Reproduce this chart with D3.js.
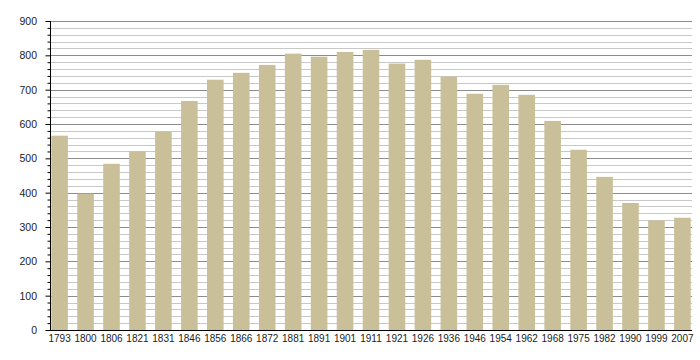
<!DOCTYPE html>
<html><head><meta charset="utf-8">
<script src="https://cdn.jsdelivr.net/npm/d3@7"></script>
<style>body{margin:0;background:#fff}svg{display:block}text{font-family:"Liberation Sans",Arial,sans-serif}</style>
</head><body><svg id="c" width="700" height="360"></svg>
<script>
const years = ["1793","1800","1806","1821","1831","1846","1856","1866","1872","1881","1891","1901","1911","1921","1926","1936","1946","1954","1962","1968","1975","1982","1990","1999","2007"];
const population = [566,397,484,520,578,667,729,749,772,805,796,810,816,776,787,738,688,714,685,609,525,446,370,319,327];
const yTicks = [0,100,200,300,400,500,600,700,800,900];

(function () {
const svg = d3.select("#c");
const mLeft = 50, mRight = 692, mTop = 21, mBottom = 330;
const x = d3.scaleBand().domain(years).range([mLeft, mRight]).paddingInner(0.36).paddingOuter(0.05);
const y = d3.scaleLinear().domain([0, 900]).range([mBottom, mTop]);

const minor = d3.range(0, 901, 20);
svg.append("g").selectAll("line").data(minor).join("line")
  .attr("x1", mLeft).attr("x2", mRight)
  .attr("y1", d => Math.round(y(d)) + 0.5).attr("y2", d => Math.round(y(d)) + 0.5)
  .attr("stroke", d => d % 100 === 0 ? "#8c8c8c" : "#c8c8c8").attr("stroke-width", 1);

svg.append("g").selectAll("rect").data(years).join("rect")
  .attr("x", d => x(d)).attr("width", x.bandwidth())
  .attr("y", (d, i) => y(population[i])).attr("height", (d, i) => mBottom - y(population[i]))
  .attr("fill", "#c9c09a");

// y axis
const ya = svg.append("g").attr("transform", `translate(${mLeft + 0.5},0)`);
ya.call(d3.axisLeft(y).tickValues(minor).tickSize(3).tickFormat(""))
  .call(g => g.select(".domain").remove());
ya.selectAll(".tick line").attr("stroke", "#000");
ya.selectAll(".tick").filter(d => d % 100 === 0).select("line").attr("x2", -5);
ya.append("line").attr("y1", mTop).attr("y2", mBottom + 0.5).attr("stroke", "#000");
svg.append("g").selectAll("text").data(yTicks).join("text")
  .attr("x", 37).attr("y", d => y(d) + 4).attr("text-anchor", "end")
  .attr("font-size", 10.5).attr("fill", "#222").text(d => d);

// x axis
const xa = svg.append("g").attr("transform", `translate(0,${mBottom + 0.5})`);
xa.call(d3.axisBottom(x).tickSize(0).tickPadding(4))
  .call(g => g.select(".domain").attr("d", `M${mLeft - 3},0H${mRight}`).attr("stroke", "#000"));
xa.selectAll("text").attr("font-size", 10).attr("fill", "#222").attr("font-family", "Liberation Sans, Arial, sans-serif");
})();
</script></body></html>
